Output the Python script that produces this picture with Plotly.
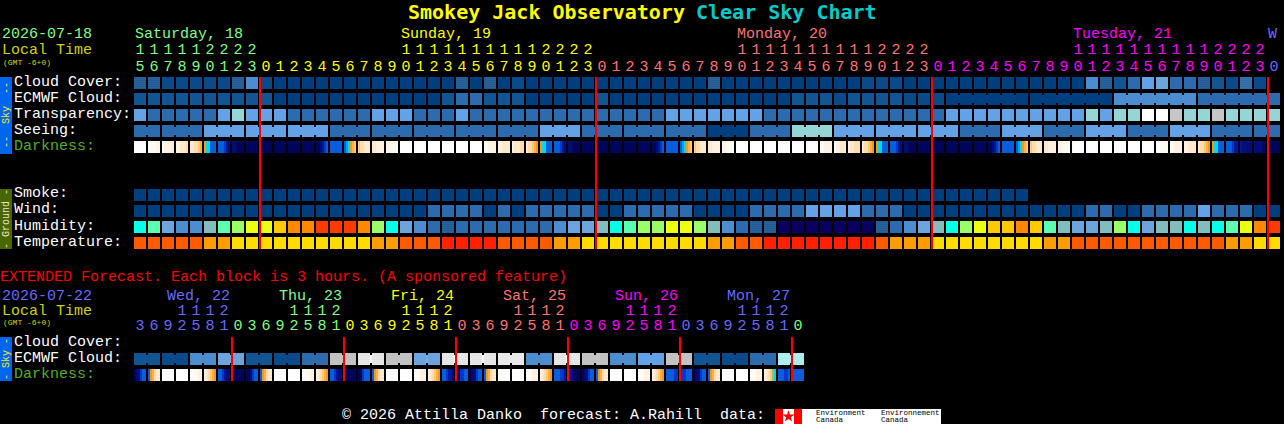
import plotly.graph_objects as go

# ---------- data (one letter per block) ----------
cloud_cover = "ppbbbbbpeb" + "a"*11 + "aapapab" + "a"*13 + "p" + "a"*10 + "bbb" + "a"*13 + "epcdfgddpcbqb"[:13]
ecmwf_cloud = "c"*10 + "a"*12 + "cddccc" + "a"*5 + "c" + "a"*13 + "cccbc" + "cccbbb" + "a"*12 + "e"*6 + "d"*6
ecmwf_blocks = [1]*58 + [6, 6, 6, 6]
transparency = "fdddddfhfffddddddfffd" + "ddf" + "d"*14 + "f"*7 + "d"*7 + "d"*6 + "f"*10 + "hfhhwwmhhmhhhh"
seeing = "d"*5 + "f"*9 + "d"*15 + "fff" + "d"*9 + "aaa" + "ddd" + "hhh" + "f"*9 + "ddd" + "fff" + "ddd" + "fff" + "ddd" + "fff" + "d"*5
seeing_blocks = [2] + [3]*26 + [2]
darkness = ["W", "VVVVCC", "VCCCCD", "CCDDDE", "DDEEQO", "PTTBBB", "BBBMNL", "LLKKKK", "K", "K", "K", "K", "K",
            "KKLNMB", "B", "BSTPOQ", "QEEDDD", "DDCCCC", "CCVVVV", "W", "W",
            "W", "W", "W", "W", "VVCCCC", "CCDDDD", "CDDDEE", "DEEQOP", "PTTBBB", "BBBMNL", "LLKKKK", "K", "K", "K", "K", "K",
            "KKLNMB", "B", "BSTPOQ", "QEEDDD", "DDCCCC", "CCVVVV", "W", "W", "W", "W", "W", "W", "VVCCCC", "VCCDDD", "CDDEEE",
            "DEEQOP", "PTTBBB", "BBBMNL", "LLKKKK", "K", "K", "K", "K", "K",
            "KKLNMB", "B", "BSTPOQ", "QEEDDD", "DDCCCC", "CCVVVV", "VWWWWW", "W", "W", "W", "W", "W",
            "WWVVVV", "VVCCCC", "CCDDDD", "DEEQOP", "PTTBBB", "BBBMNN", "NLLLLL", "LLLLKK", "K"]
smoke = "a"*64
wind = "a"*21 + "dddd" + "a" + "d" + "a" + "d"*5 + "aa" + "d"*5 + "aaaa" + "dddd" + "ffff" + "ddd" + "a"*13 + "dd" + "aa" + "dddd" + "f" + "ddd" + "aa"
humidity = "uvgeetvlyyAOORRROlugedp" + "d"*7 + "eggtuvllyyltedpp" + "n"*6 + "npdegtulyAAOAvtggtlugttutuvyOR"
temperature = "F"*5 + "GG" + "H"*10 + "GG" + "FF" + "F" + "IIII" + "FFFF" + "GG" + "H"*9 + "GG" + "FF" + "I"*7 + "I" + "F" + "GGG" + "H"*8 + "GG" + "F"*11 + "GG" + "HH"

ext_ecmwf = "ccbbeeggccbbddssxxssggxxxxjjeexxsseeffssccbbddii"
ext_blocks = [2]*24
ext_darkness = ["KLLMBB", "BPOEDD", "W", "W", "WVVVCC", "CDEQOP", "BBMNLL", "K",
                "KKLMBB", "BPOEDD", "W", "W", "WVVVCC", "CDEQOP", "BBMNLL", "K",
                "KKMBBB", "BPOEDD", "W", "W", "WVVCCC", "CDEQOP", "BBMNNL", "LLMMBB",
                "KLLMBB", "BPOEDD", "VVWWWW", "W", "WVVCCC", "CDEQOP", "BBBMMN", "MNLKKK",
                "KLLMBB", "BPOEDD", "W", "W", "WVVCCC", "CDEQOP", "BBBBMM", "MMMBBB",
                "KLLMBB", "BPOEDD", "W", "W", "WVVCCC", "CDEQZT", "BBBMMB", "B"]

main_tens = "111112222" + " "*10 + "11111111112222" + " "*10 + "11111111112222" + " "*10 + "11111111112222" + " "
main_units = "567890123" + "012345678901234567890123"*3 + "0"
ext_tens = "   1112 " * 6
ext_units = "36925810"*6
main_day_colors = [0]*9 + [1]*24 + [2]*24 + [3]*24 + [4]
ext_day_colors = [5]*7 + [0]*8 + [1]*8 + [2]*8 + [3]*8 + [5]*8 + [0]

day_palette = ["#80FF80", "#FFFF00", "#FF7373", "#FF00FF", "#6A6AFF", "#6A6AFF"]
main_midnights = [9, 33, 57, 81]
ext_midnights = [7, 15, 23, 31, 39, 47]

# level: (base colour, dither colour, dither spacing)
palette = {
    "a": ("#003F7F", None, 0), "b": ("#0A4A8A", None, 0), "c": ("#125595", None, 0), "d": ("#2C6CAE", None, 0),
    "e": ("#4C8DCF", None, 0), "f": ("#63A2E6", None, 0), "g": ("#70AFEF", "#7EBAF2", 2), "h": ("#96D5D5", None, 0),
    "i": ("#ADEDED", None, 0), "w": ("#FFFFFF", None, 0), "x": ("#F8F8F8", "#EAEAEA", 2), "j": ("#E9E9E9", None, 0),
    "s": ("#C2C2C2", None, 0), "m": ("#C6C6C6", None, 0), "p": ("#0B4B8B", "#1A5C9C", 2), "q": ("#1B5D9F", "#2E6EAE", 2),
    "n": ("#0A005F", None, 0), "t": ("#82BDBD", None, 0), "u": ("#08FFE8", None, 0), "v": ("#5AFFAF", None, 0),
    "l": ("#9AFF66", None, 0), "y": ("#ECFF12", None, 0), "A": ("#FFC800", None, 0), "O": ("#FF8800", None, 0),
    "R": ("#FF3A00", None, 0), "F": ("#FF5A00", None, 0), "G": ("#FF9C00", None, 0), "H": ("#FFDC00", None, 0),
    "I": ("#FF2000", None, 0),
}
dark_palette = {
    "W": "#FFFFFF", "V": "#FFFAF4", "C": "#FFF2E2", "D": "#FFE8CC", "E": "#FFDCAE", "Q": "#FFC878",
    "O": "#FFB040", "P": "#F09A18", "T": "#00D8F0", "S": "#00A0F0", "B": "#0A5EDE", "M": "#0038C8",
    "N": "#0018A0", "L": "#000C78", "K": "#00055C", "Z": "#90C070",
}

# ---------- geometry ----------
W, H = 1284, 424
PITCH_X, PITCH_Y = 14, 16
LEFT, TOP = 134, 77
CW, CH = 12 / PITCH_X, 12 / PITCH_Y
JOIN_H = 8 / PITCH_Y
GAP = 2 / PITCH_X
MONO = "Liberation Mono"
BOLD = "DejaVu Sans Mono"

fig = go.Figure()


def cells(row, levels, start=0):
    cols = [start + i for i, c in enumerate(levels) if c != " "]
    lv = [c for c in levels if c != " "]
    fig.add_trace(go.Bar(
        orientation="h", y=[row + CH / 2] * len(cols), x=[CW] * len(cols), base=cols, width=CH,
        marker=dict(
            color=[palette[c][0] for c in lv], line_width=0,
            pattern=dict(
                shape=["." if palette[c][1] else "" for c in lv],
                fgcolor=[palette[c][1] or palette[c][0] for c in lv],
                size=[palette[c][2] or 2 for c in lv], solidity=0.25,
            ),
        ),
        hoverinfo="skip",
    ))


def joins(row, levels, blocks):
    xs, cs, i = [], [], 0
    for b in blocks:
        for k in range(b - 1):
            xs.append(i + k + CW)
            cs.append(palette[levels[i + k]][0])
        i += b
    fig.add_trace(go.Bar(
        orientation="h", y=[row + CH / 2] * len(xs), x=[GAP] * len(xs), base=xs, width=JOIN_H,
        marker=dict(color=cs, line_width=0), hoverinfo="skip",
    ))


def dark_cells(row, tokens):
    xs, ws, cs = [], [], []
    for i, tok in enumerate(tokens):
        seg = CW / len(tok)
        for k, c in enumerate(tok):
            xs.append(i + k * seg)
            ws.append(seg)
            cs.append(dark_palette[c])
    fig.add_trace(go.Bar(
        orientation="h", y=[row + CH / 2] * len(xs), x=ws, base=xs, width=CH,
        marker=dict(color=cs, line_width=0), hoverinfo="skip",
    ))


def digits(row_px, chars, colors):
    cols = [i for i, c in enumerate(chars) if c != " "]
    fig.add_trace(go.Scatter(
        x=[i + CW / 2 for i in cols], y=[(row_px + 1.5 - TOP) / PITCH_Y] * len(cols),
        mode="text", text=[chars[i] for i in cols], textposition="middle center",
        textfont=dict(family=MONO, size=15, color=[day_palette[colors[i]] for i in cols]),
        hoverinfo="skip",
    ))


def red_lines(cols, top_px, bottom_px):
    # 2 px wide midnight markers, centred on the left edge of the column
    span = (bottom_px - top_px) / PITCH_Y
    mid = ((top_px + bottom_px) / 2 - TOP) / PITCH_Y
    fig.add_trace(go.Bar(
        orientation="h", y=[mid] * len(cols), x=[GAP] * len(cols), base=[c - GAP / 2 for c in cols], width=span,
        marker=dict(color="#FF0000", line_width=0), hoverinfo="skip",
    ))


notes = []


def label(px, py, text, color="#FFFFFF", size=15, anchor="left", angle=0, family=MONO):
    dy = 1 if size == 15 else 0
    notes.append(dict(
        xref="paper", yref="paper", x=(px - 1) / W, y=1 - (py + dy) / H, text=text, showarrow=False, borderpad=0,
        xanchor=anchor, yanchor="middle", textangle=angle, font=dict(family=family, size=size, color=color),
    ))


# rows
joins(1, ecmwf_cloud, ecmwf_blocks)
joins(3, seeing, seeing_blocks)
cells(0, cloud_cover)
cells(1, ecmwf_cloud)
cells(2, transparency)
cells(3, seeing)
dark_cells(4, darkness)
cells(7, smoke)
cells(8, wind)
cells(9, humidity)
cells(10, temperature)
joins(17.25, ext_ecmwf, ext_blocks)
cells(17.25, ext_ecmwf)
dark_cells(18.25, ext_darkness)

digits(49, main_tens, main_day_colors)
digits(65.5, main_units, main_day_colors)
digits(310, ext_tens, ext_day_colors)
digits(325, ext_units, ext_day_colors)
red_lines(main_midnights, 77, 249)
red_lines(ext_midnights, 337, 381)

# texts
label(408, 12, "Smokey Jack Observatory", "#FFFF00", 20, family=BOLD)
notes[-1]["font"]["weight"] = "bold"
label(696, 12, "Clear Sky Chart", "#00CCCC", 20, family=BOLD)
notes[-1]["font"]["weight"] = "bold"

label(2, 34, "2026-07-18", "#80FF80")
label(2, 50, "Local Time", "#D2D200")
label(3, 62, "(GMT -6+0)", "#D2D200", 8)
label(135, 34, "Saturday, 18", "#80FF80")
label(401, 34, "Sunday, 19", "#FFFF00")
label(737, 34, "Monday, 20", "#FF7373")
label(1073, 34, "Tuesday, 21", "#FF00FF")
label(1268, 34, "W", "#6A6AFF")

for name, py, col in [("Cloud Cover:", 81, "#FFFFFF"), ("ECMWF Cloud:", 97, "#FFFFFF"), ("Transparency:", 113, "#FFFFFF"),
                      ("Seeing:", 129, "#FFFFFF"), ("Darkness:", 145, "#50B020"), ("Smoke:", 193, "#FFFFFF"),
                      ("Wind:", 209, "#FFFFFF"), ("Humidity:", 225, "#FFFFFF"), ("Temperature:", 241, "#FFFFFF"),
                      ("Cloud Cover:", 341, "#FFFFFF"), ("ECMWF Cloud:", 357, "#FFFFFF"), ("Darkness:", 373, "#50B020")]:
    label(14, py, name, col)

label(0, 276, "EXTENDED Forecast. Each block is 3 hours. (A sponsored feature)", "#FF0000")
label(2, 295, "2026-07-22", "#6A6AFF")
label(2, 310, "Local Time", "#D2D200")
label(3, 322, "(GMT -6+0)", "#D2D200", 8)
for px, day, col in [(167, "Wed, 22", "#6A6AFF"), (279, "Thu, 23", "#80FF80"), (391, "Fri, 24", "#FFFF00"),
                     (503, "Sat, 25", "#FF7373"), (615, "Sun, 26", "#FF00FF"), (727, "Mon, 27", "#6A6AFF")]:
    label(px, 295, day, col)

label(342, 414.5, "© 2026 Attilla Danko\u00a0\u00a0forecast: A.Rahill\u00a0\u00a0data:", "#FFFFFF")
label(816, 413, "Environment", "#000000", 7.5)
label(816, 419.5, "Canada", "#000000", 7.5)
label(881, 413, "Environnement", "#000000", 7.5)
label(881, 419.5, "Canada", "#000000", 7.5)

# side bars and logo
SKY, GROUND = "#0066EE", "#4A6600"
shapes = []
def rect(x0, y0, x1, y1, color):
    shapes.append(dict(type="rect", xref="paper", yref="paper", x0=x0 / W, x1=x1 / W, y0=1 - y0 / H, y1=1 - y1 / H,
                       fillcolor=color, line_width=0, layer="below"))
rect(0, 77, 12, 154, SKY)
rect(0, 189, 12, 249, GROUND)
rect(0, 337, 12, 381, SKY)
rect(775, 409, 941, 424, "#FFFFFF")
rect(775, 409, 783, 424, "#FF0000")
rect(794, 409, 802, 424, "#FF0000")
label(7, 115, "--\u00a0\u00a0Sky\u00a0\u00a0--", "#FFEE00", 10, "center", -90)
label(7, 219, "- Ground -", "#E8E8D0", 10, "center", -90)
label(7, 359, "- Sky -", "#FFEE00", 10, "center", -90)
fig.add_trace(go.Scatter(
    x=[(788.5 - LEFT) / PITCH_X], y=[(416.5 - TOP) / PITCH_Y], mode="markers",
    marker=dict(symbol="star", size=9, color="#FF0000"), hoverinfo="skip",
))

fig.update_layout(
    width=W, height=H, margin=dict(l=0, r=0, t=0, b=0, pad=0),
    paper_bgcolor="#000000", plot_bgcolor="#000000", showlegend=False, barmode="overlay",
    bargap=0, hovermode=False, annotations=notes, shapes=shapes,
    xaxis=dict(range=[(0 - LEFT) / PITCH_X, (W - LEFT) / PITCH_X], visible=False, fixedrange=True),
    yaxis=dict(range=[(H - TOP) / PITCH_Y, (0 - TOP) / PITCH_Y], visible=False, fixedrange=True),
)

fig.write_html("out.html", config={"displayModeBar": False, "staticPlot": True},
               post_script="document.body.style.margin='0';document.body.style.background='#000';document.documentElement.style.overflow='hidden';")
